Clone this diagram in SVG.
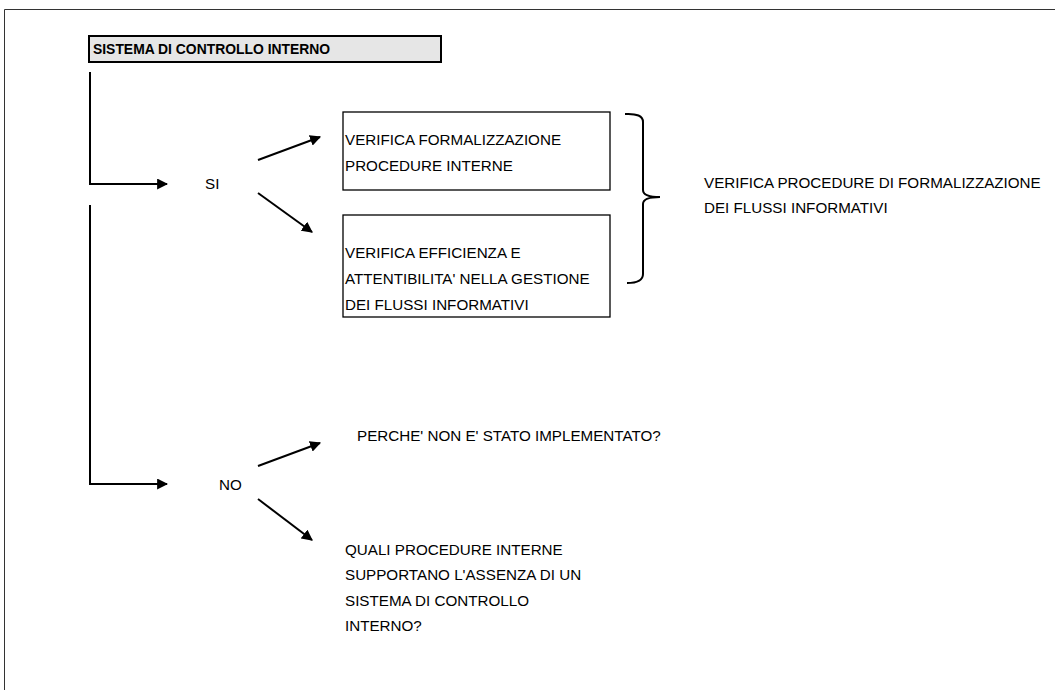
<svg xmlns="http://www.w3.org/2000/svg" width="1055" height="690" viewBox="0 0 1055 690">
<style>
text{font-family:"Liberation Sans",Arial,sans-serif;font-size:15.2px;fill:#000}
.t{font-weight:bold;font-size:13.9px}
.ln{stroke:#000;stroke-width:2;fill:none}
.box{fill:#fff;stroke:#000;stroke-width:1.3}
</style>
<defs>
<marker id="ah" viewBox="0 0 10 10" refX="9" refY="5" markerWidth="5.5" markerHeight="5.5" orient="auto" markerUnits="strokeWidth">
<path d="M0,0 L10,5 L0,10 z" fill="#000"/>
</marker>
</defs>
<rect x="0" y="0" width="1055" height="690" fill="#fff"/>
<path d="M4.5,690 V9.5 H1055" fill="none" stroke="#333" stroke-width="1"/>
<g id="title">
<rect x="89" y="36" width="352" height="26" fill="#e6e6e6" stroke="#000" stroke-width="2"/>
<text class="t" x="93" y="54">SISTEMA DI CONTROLLO INTERNO</text>
</g>
<g id="connectors">
<path class="ln" d="M90,72 V184 H167" marker-end="url(#ah)"/>
<path class="ln" d="M90,205 V484 H167" marker-end="url(#ah)"/>
<line class="ln" x1="258" y1="160" x2="320" y2="137" marker-end="url(#ah)"/>
<line class="ln" x1="258" y1="193" x2="312" y2="232" marker-end="url(#ah)"/>
<line class="ln" x1="258" y1="466" x2="320" y2="443" marker-end="url(#ah)"/>
<line class="ln" x1="258" y1="499" x2="312" y2="540" marker-end="url(#ah)"/>
<path class="ln" d="M625,114 Q643,113 643,122 V190 Q643,197 660,197 Q643,197 643,204 V274 Q643,283 627,283"/>
</g>
<g id="si"><text x="205" y="189">SI</text></g>
<g id="no"><text x="219" y="490">NO</text></g>
<g id="box1">
<rect class="box" x="343" y="112" width="267" height="78"/>
<text x="345" y="145">VERIFICA FORMALIZZAZIONE</text>
<text x="345" y="171">PROCEDURE INTERNE</text>
</g>
<g id="box2">
<rect class="box" x="343" y="215" width="267" height="102"/>
<text x="345" y="258">VERIFICA EFFICIENZA E</text>
<text x="345" y="284">ATTENTIBILITA' NELLA GESTIONE</text>
<text x="345" y="310">DEI FLUSSI INFORMATIVI</text>
</g>
<g id="summary">
<text x="704" y="188">VERIFICA PROCEDURE DI FORMALIZZAZIONE</text>
<text x="704" y="213">DEI FLUSSI INFORMATIVI</text>
</g>
<g id="perche"><text x="357" y="441">PERCHE' NON E' STATO IMPLEMENTATO?</text></g>
<g id="quali">
<text x="345" y="555">QUALI PROCEDURE INTERNE</text>
<text x="345" y="580">SUPPORTANO L'ASSENZA DI UN</text>
<text x="345" y="606">SISTEMA DI CONTROLLO</text>
<text x="345" y="631">INTERNO?</text>
</g>
</svg>
